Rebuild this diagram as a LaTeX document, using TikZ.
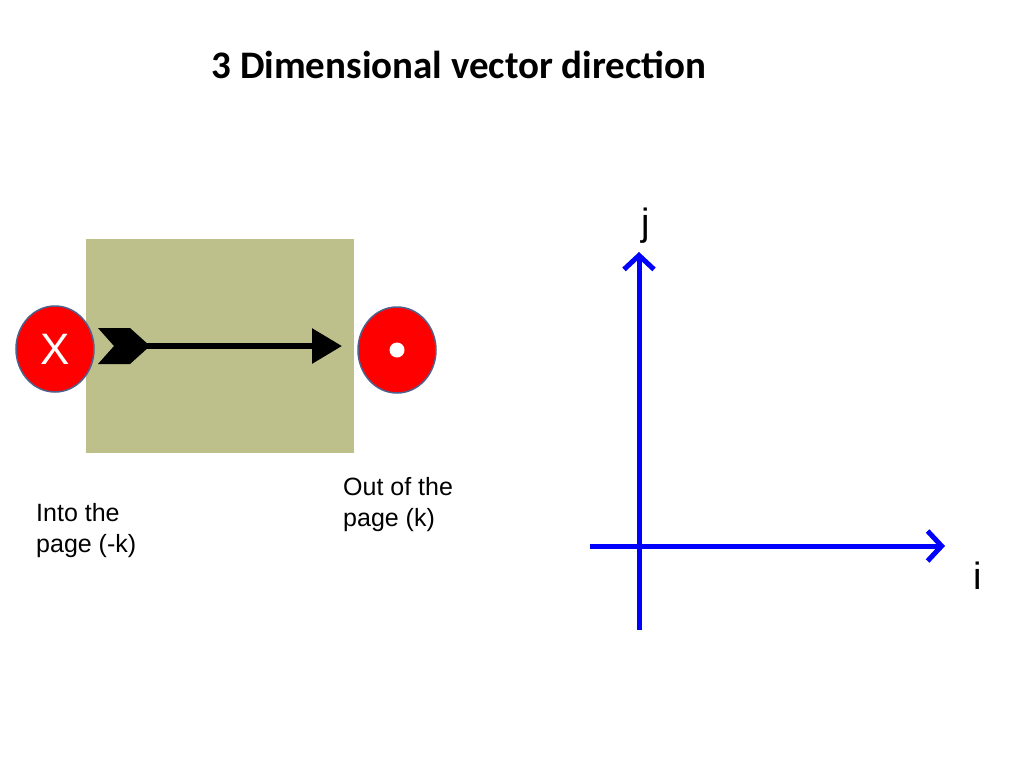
\documentclass[tikz,border=0pt]{standalone}
\usepackage{fontspec}
\setmainfont{Liberation Sans}
\newfontfamily\titlefont{Carlito}
\usetikzlibrary{arrows.meta,shapes.geometric}
\definecolor{boxc}{RGB}{190,192,140}
\definecolor{ringc}{RGB}{80,96,140}
\tikzset{
  disc/.style={ellipse,draw=ringc,line width=1.5pt,fill=red,minimum width=78pt,minimum height=86pt,inner sep=0pt},
  lbl/.style={font=\fontsize{25}{31}\selectfont,align=left,anchor=north west,inner sep=0pt},
  axis/.style={draw=blue,line width=5pt,-{Straight Barb[length=14pt,width=30pt,line width=5pt]}},
}
\begin{document}
\begin{tikzpicture}[x=1pt,y=-1pt]
\useasboundingbox (0,0) rectangle (1024,768);
\node (title) at (459,65) {\titlefont\bfseries\fontsize{39}{44}\selectfont 3 Dimensional vector direction};
\fill[boxc] (86,239) rectangle (354,453);
\node[disc] (into) at (55,349) {};
\node[text=white,font=\fontsize{44}{48}\selectfont] at (into) {X};
\node[disc] (out) at (397,350) {};
\fill[white] (out) circle (7.5);
\coordinate (tail) at (140,346);
\coordinate (head) at (342,346);
\fill[black] (98,328) -- (130,328) -- (150,346) -- (130,364) -- (98,364) -- (114,346) -- cycle;
\draw[line width=6pt,-{Triangle[length=30pt,width=34pt]}] (tail) -- (head);
\node[lbl] (l1) at (36,503) {Into the\\page (-k)};
\node[lbl] (l2) at (343,477) {Out of the\\page (k)};
\coordinate (o) at (639,546);
\coordinate (vb) at (639,630);
\coordinate (vt) at (639,252);
\coordinate (hl) at (590,546);
\coordinate (hr) at (945,546);
\draw[axis] (vb) -- (vt);
\draw[axis] (hl) -- (hr);
\node (j) at (646,226) {\fontsize{38}{42}\selectfont j};
\node (i) at (978,576) {\fontsize{38}{42}\selectfont i};
\end{tikzpicture}
\end{document}
